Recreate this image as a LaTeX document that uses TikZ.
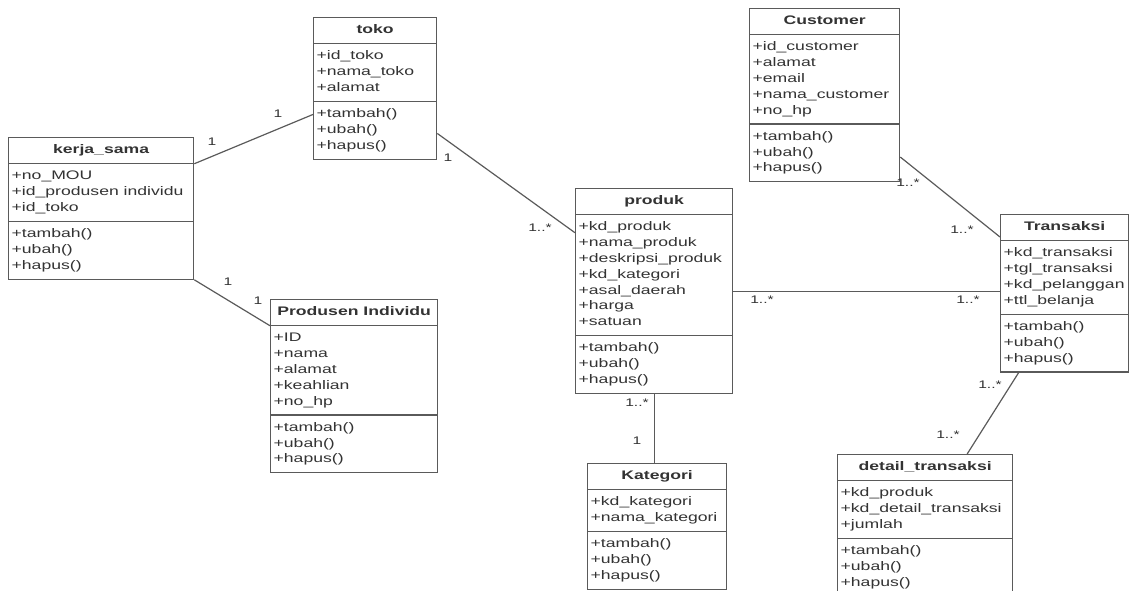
\documentclass[tikz,border=0pt]{standalone}
\usepackage{fontspec}
\setmainfont{Liberation Sans}[FakeStretch=1.42]
\usetikzlibrary{shapes.multipart}
\definecolor{umlline}{HTML}{5A5A5A}
\definecolor{umltext}{HTML}{333333}
\newcommand{\rows}[1]{\strut#1\strut}

\begin{document}
\begin{tikzpicture}[x=1pt, y=-1pt,
  umlclass/.style={draw=umlline, line width=1.3pt, fill=white, rectangle split, rectangle split parts=3,
    rectangle split part align={center,left,left}, align=left, anchor=north west,
    inner xsep=3pt, inner ysep=4.5pt, text=umltext, font=\fontsize{12.4}{15.8}\selectfont},
  assoc/.style={draw=umlline, line width=1.2pt},
  mult/.style={text=umltext, font=\fontsize{11}{13}\selectfont, inner sep=1pt}
]
\useasboundingbox (0,0) rectangle (1132,591);

% classes
\node[umlclass, minimum width=185pt] (kerjasama) at (8,137) {\rows{\textbf{kerja\_sama}}
  \nodepart{two}\rows{+no\_MOU\\+id\_produsen individu\\+id\_toko}
  \nodepart{three}\rows{+tambah()\\+ubah()\\+hapus()}};
\node[umlclass, minimum width=123pt] (toko) at (313,17) {\rows{\textbf{toko}}
  \nodepart{two}\rows{+id\_toko\\+nama\_toko\\+alamat}
  \nodepart{three}\rows{+tambah()\\+ubah()\\+hapus()}};
\node[umlclass, minimum width=167pt] (produsen) at (270,299) {\rows{\textbf{Produsen Individu}}
  \nodepart{two}\rows{+ID\\+nama\\+alamat\\+keahlian\\+no\_hp}
  \nodepart{three}\rows{+tambah()\\+ubah()\\+hapus()}};
\node[umlclass, minimum width=157pt] (produk) at (575,188) {\rows{\textbf{produk}}
  \nodepart{two}\rows{+kd\_produk\\+nama\_produk\\+deskripsi\_produk\\+kd\_kategori\\+asal\_daerah\\+harga\\+satuan}
  \nodepart{three}\rows{+tambah()\\+ubah()\\+hapus()}};
\node[umlclass, minimum width=139pt] (kategori) at (587,463) {\rows{\textbf{Kategori}}
  \nodepart{two}\rows{+kd\_kategori\\+nama\_kategori}
  \nodepart{three}\rows{+tambah()\\+ubah()\\+hapus()}};
\node[umlclass, minimum width=150pt] (customer) at (749,8) {\rows{\textbf{Customer}}
  \nodepart{two}\rows{+id\_customer\\+alamat\\+email\\+nama\_customer\\+no\_hp}
  \nodepart{three}\rows{+tambah()\\+ubah()\\+hapus()}};
\node[umlclass, minimum width=128pt] (transaksi) at (1000,214) {\rows{\textbf{Transaksi}}
  \nodepart{two}\rows{+kd\_transaksi\\+tgl\_transaksi\\+kd\_pelanggan\\+ttl\_belanja}
  \nodepart{three}\rows{+tambah()\\+ubah()\\+hapus()}};
\node[umlclass, minimum width=175pt] (detail) at (837,454) {\rows{\textbf{detail\_transaksi}}
  \nodepart{two}\rows{+kd\_produk\\+kd\_detail\_transaksi\\+jumlah}
  \nodepart{three}\rows{+tambah()\\+ubah()\\+hapus()}};

% associations
\draw[assoc] (kerjasama.text split east) -- ([yshift=-13pt]toko.two split west);
\draw[assoc] (kerjasama.south east) -- (produsen.text split west);
\draw[assoc] ([yshift=-32pt]toko.two split east) -- ([yshift=-18pt]produk.text split west);
\draw[assoc] ([yshift=-77pt]produk.text split east) coordinate (pt) -- (pt -| transaksi.west);
\draw[assoc] ([yshift=-33pt]customer.two split east) -- ([yshift=-23pt]transaksi.north west);
\draw[assoc] (produk.south) -- (produk.south |- kategori.north);
\draw[assoc] ([xshift=-46pt]transaksi.south) -- ([xshift=42pt]detail.north);

% multiplicities
\node[mult] (m1) at (212,142) {1};
\node[mult] (m2) at (278,114) {1};
\node[mult] (m3) at (228,282) {1};
\node[mult] (m4) at (258,301) {1};
\node[mult] (m5) at (448,158) {1};
\node[mult] (m6) at (540,228) {1..*};
\node[mult] (m7) at (762,300) {1..*};
\node[mult] (m8) at (968,300) {1..*};
\node[mult] (m9) at (908,183) {1..*};
\node[mult] (m10) at (962,230) {1..*};
\node[mult] (m11) at (637,403) {1..*};
\node[mult] (m12) at (637,441) {1};
\node[mult] (m13) at (990,385) {1..*};
\node[mult] (m14) at (948,435) {1..*};
\end{tikzpicture}
\end{document}
